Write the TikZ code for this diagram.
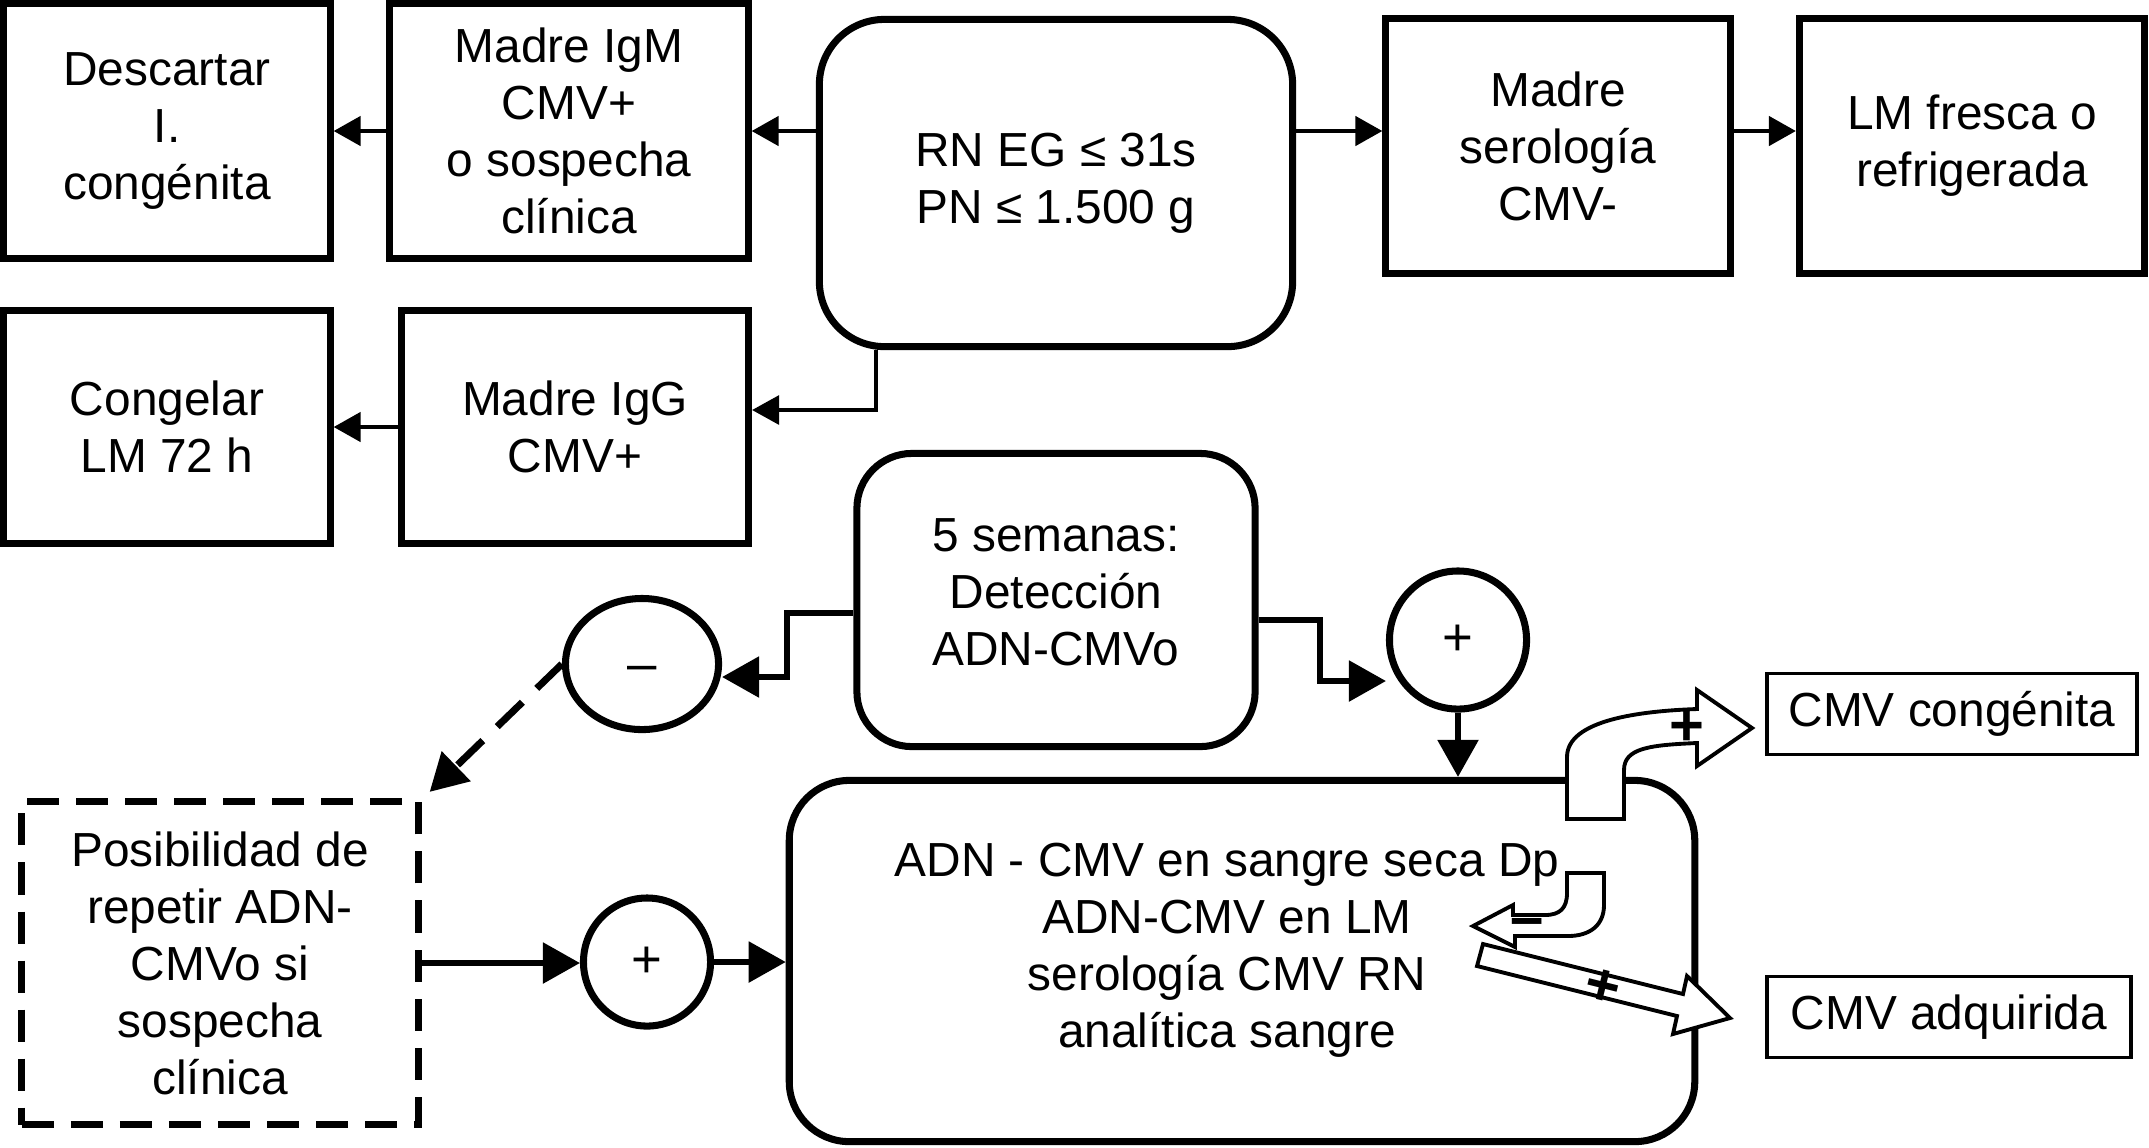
\documentclass[tikz,border=0pt]{standalone}
\usepackage{fontspec}
\setmainfont{Liberation Sans}
\usepackage{tikz}
\usetikzlibrary{arrows.meta}
\usetikzlibrary{shapes.geometric}
\usetikzlibrary{calc}
\tikzstyle{txt}=[font=\fontsize{13.6}{16.2}\selectfont, align=center, inner sep=0pt]
\tikzstyle{box}=[txt, draw, line width=2pt, rectangle]
\tikzstyle{rbox}=[box, rounded corners=0.65cm]
\tikzstyle{sign}=[txt, draw, line width=2pt, ellipse, font=\fontsize{15}{15}\selectfont]
\tikzstyle{outcome}=[txt, draw, line width=1.1pt]
\tikzstyle{arr}=[line width=1.3pt, -{Triangle[length=0.27cm,width=0.29cm]}]
\tikzstyle{bigarr}=[line width=1.6pt, -{Triangle[length=0.37cm,width=0.40cm]}]
\tikzstyle{hollow}=[draw, fill=white, line width=1.1pt, line join=miter]
\tikzstyle{arrsign}=[txt, font=\fontsize{17}{17}\selectfont\bfseries]

\begin{document}
\begin{tikzpicture}[x=0.01cm, y={(0,-0.01cm)}]
  \useasboundingbox (0,0) rectangle (2149,1147);
  \node[box, minimum width=3.26cm, minimum height=2.54cm] (desc) at (167,131) {Descartar\\I.\\congénita};
  \node[box, minimum width=3.58cm, minimum height=2.54cm] (igm) at (569,131) {Madre IgM\\CMV+\\o sospecha\\clínica};
  \node[rbox, minimum width=4.73cm, minimum height=3.27cm] (rn) at (1056,183) {RN EG ≤ 31s\\PN ≤ 1.500 g};
  \node[box, minimum width=3.44cm, minimum height=2.55cm] (sero) at (1558,146) {Madre\\serología\\CMV-};
  \node[box, minimum width=3.45cm, minimum height=2.55cm] (lmf) at (1972,146) {LM fresca o\\refrigerada};
  \node[box, minimum width=3.26cm, minimum height=2.33cm] (cong) at (167,427) {Congelar\\LM 72 h};
  \node[box, minimum width=3.47cm, minimum height=2.33cm] (igg) at (575,427) {Madre IgG\\CMV+};
  \node[rbox, rounded corners=0.55cm, text depth=0.16cm, minimum width=3.98cm, minimum height=2.93cm] (sem) at (1056,600) {5 semanas:\\Detección\\ADN-CMVo};
  \node[sign, minimum width=1.53cm, minimum height=1.31cm] (neg) at (642,664) {\raisebox{-0.17cm}[0pt][0pt]{–}};
  \node[sign, minimum width=1.37cm, minimum height=1.38cm] (posa) at (1458,640) {+};
  \node[sign, minimum width=1.27cm, minimum height=1.28cm] (posb) at (647,962) {+};
  \node[box, dash pattern=on 0.32cm off 0.17cm, minimum width=3.96cm, minimum height=3.23cm] (rep) at (220,963) {Posibilidad de\\repetir ADN-\\CMVo si\\sospecha\\clínica};
  \node[rbox, rounded corners=0.6cm, minimum width=9.05cm, minimum height=3.61cm] (adn) at (1242,961) {};
  \node[txt] (adntxt) at (1227,950) {ADN - CMV en sangre seca Dp\\ADN-CMV en LM\\serología CMV RN\\analítica sangre};
  \node[outcome, minimum width=3.70cm, minimum height=0.81cm] (congenita) at (1952,714) {CMV congénita};
  \node[outcome, minimum width=3.64cm, minimum height=0.81cm] (adquirida) at (1949,1017) {CMV adquirida};

  \draw[arr] (igm.east -| rn.west) -- (igm.east);
  \foreach \a/\b in {igm/desc,igg/cong}
    \draw[arr] (\a.west) -- (\b.east);
  \draw[arr] (igm.east -| rn.east) -- (igm.east -| sero.west);
  \draw[arr] (igm.east -| sero.east) -- (igm.east -| lmf.west);
  \coordinate (gturn) at (876,410);
  \draw[arr, line width=0.9pt] (rn.south -| gturn) -- (gturn) -- (gturn -| igg.east);

  \coordinate (na) at (787,613);
  \coordinate (nb) at (787,677);
  \draw[bigarr] (sem.west |- na) -- (na) -- (nb) -- (nb -| neg.east);
  \coordinate (pa) at (1320,620);
  \coordinate (pb) at (1320,681);
  \draw[bigarr] (sem.east |- pa) -- (pa) -- (pb) -- (pb -| posa.west);
  \draw[bigarr] (posa.south) -- (posa.south |- adn.north);
  \draw[bigarr, line width=2pt, dash pattern=on 0.35cm off 0.2cm] (neg.west) -- ([shift={(8,-6)}]rep.north east);
  \draw[bigarr] (rep.east) -- (rep.east -| posb.west);
  \draw[bigarr] (posb.east) -- (posb.east -| adn.west);

  \draw[hollow] (1567,819) -- (1567,757) .. controls (1567,720) and (1640,711) .. (1697,709)
    -- (1697,690) -- (1752,728) -- (1697,766) -- (1697,743)
    .. controls (1650,745) and (1624,748) .. (1624,770) -- (1624,819) -- cycle;
  \draw[hollow] (1567,873) -- (1604,873) -- (1604,905) .. controls (1604,925) and (1590,936) .. (1568,936)
    -- (1515,936) -- (1515,947) -- (1473,926) -- (1513,905) -- (1513,915) -- (1545,915)
    .. controls (1560,915) and (1567,908) .. (1567,893) -- cycle;
  \draw[hollow] (1483,944) -- (1683,994) -- (1687,976) -- (1730,1018) -- (1673,1034) -- (1677,1016) -- (1477,966) -- cycle;
  \node[arrsign] (plusc) at (1687,728) {+};
  \node[arrsign] (minusd) at (1527,928) {–};
  \node[arrsign, rotate=-14] (plusq) at (1603,988) {+};
\end{tikzpicture}
\end{document}
